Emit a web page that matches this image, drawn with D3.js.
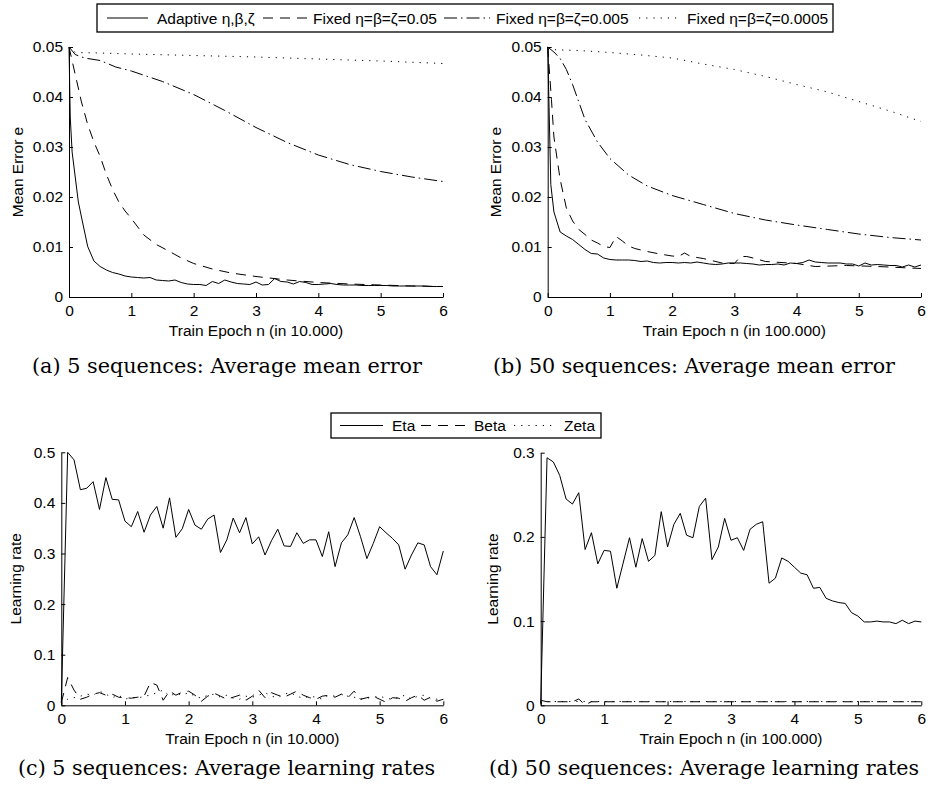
<!DOCTYPE html>
<html>
<head>
<meta charset="utf-8">
<script src="https://cdn.jsdelivr.net/npm/d3@7"></script>
<style>
  body { margin: 0; background: #fff; }
  text { font-family: "Liberation Sans", Arial, sans-serif; fill: #000; }
  .caption { font-family: "DejaVu Serif", "Liberation Serif", serif; }
</style>
</head>
<body>
<script>
// ---- data ----
const xTicks = [0, 1, 2, 3, 4, 5, 6];
const errTicks = [0, 0.01, 0.02, 0.03, 0.04, 0.05];
const rateTicksC = [0, 0.1, 0.2, 0.3, 0.4, 0.5];
const rateTicksD = [0, 0.1, 0.2, 0.3];

const legendErr = ["Adaptive η,β,ζ", "Fixed η=β=ζ=0.05", "Fixed η=β=ζ=0.005", "Fixed η=β=ζ=0.0005"];
const legendRate = ["Eta", "Beta", "Zeta"];

const epochs = [0, 0.1, 0.2, 0.3, 0.4, 0.5, 0.6, 0.7, 0.8, 0.9, 1.0, 1.1, 1.2, 1.3, 1.4, 1.5, 1.6, 1.7, 1.8, 1.9,
  2.0, 2.1, 2.2, 2.3, 2.4, 2.5, 2.6, 2.7, 2.8, 2.9, 3.0, 3.1, 3.2, 3.3, 3.4, 3.5, 3.6, 3.7, 3.8, 3.9,
  4.0, 4.1, 4.2, 4.3, 4.4, 4.5, 4.6, 4.7, 4.8, 4.9, 5.0, 5.1, 5.2, 5.3, 5.4, 5.5, 5.6, 5.7, 5.8, 5.9, 6.0];

// (a) 5 sequences, mean error
const aAdaptX = [0, 0.02, 0.05, 0.1, 0.15, 0.2, 0.3, 0.4, 0.5, 0.6, 0.7, 0.8, 0.9, 1.0, 1.1, 1.2, 1.3, 1.4, 1.5, 1.6, 1.7, 1.8, 1.9,
  2.0, 2.1, 2.2, 2.3, 2.4, 2.5, 2.6, 2.7, 2.8, 2.9, 3.0, 3.1, 3.2, 3.3, 3.4, 3.5, 3.6, 3.7, 3.8, 3.9,
  4.0, 4.1, 4.2, 4.3, 4.4, 4.5, 4.6, 4.7, 4.8, 4.9, 5.0, 5.1, 5.2, 5.3, 5.4, 5.5, 5.6, 5.7, 5.8, 5.9, 6.0];
const aAdapt = [0.05, 0.036, 0.029, 0.024, 0.019, 0.016, 0.0101, 0.0072, 0.0061, 0.0054, 0.0049, 0.0046, 0.0042, 0.0040, 0.0039, 0.0038, 0.0039, 0.0034, 0.0033, 0.0032, 0.0034, 0.0029, 0.0026,
  0.0025, 0.0025, 0.0023, 0.0031, 0.0027, 0.0034, 0.0030, 0.0027, 0.0026, 0.0025, 0.0030, 0.0024, 0.0025, 0.0037, 0.0031, 0.0030, 0.0026, 0.0031, 0.0029, 0.0025,
  0.0025, 0.0026, 0.0027, 0.0025, 0.0024, 0.0024, 0.0024, 0.0023, 0.0023, 0.0023, 0.0023, 0.0023, 0.0022, 0.0022, 0.0022, 0.0022, 0.0022, 0.0022, 0.0021, 0.0021, 0.0021];
const aFix05X = [0, 0.1, 0.2, 0.3, 0.4, 0.5, 0.6, 0.7, 0.8, 0.9, 1.0, 1.2, 1.4, 1.6, 1.8, 2.0, 2.3, 2.6, 3.0, 3.5, 4.0, 4.5, 5.0, 5.5, 6.0];
const aFix05 = [0.05, 0.0445, 0.039, 0.0345, 0.031, 0.0281, 0.0245, 0.0215, 0.019, 0.0172, 0.0157, 0.0124, 0.0105, 0.0092, 0.0078, 0.0067, 0.0056, 0.0048, 0.0041, 0.0034, 0.0029, 0.0026, 0.0024, 0.0022, 0.0021];
const aFix005X = [0, 0.1, 0.2, 0.3, 0.5, 0.75, 1.0, 1.5, 2.0, 2.5, 3.0, 3.5, 4.0, 4.5, 5.0, 5.5, 6.0];
const aFix005 = [0.05, 0.0485, 0.048, 0.0477, 0.0473, 0.046, 0.0452, 0.0431, 0.0405, 0.0373, 0.0339, 0.0309, 0.0284, 0.0265, 0.0251, 0.024, 0.0231];
const aFix0005X = [0, 0.1, 0.5, 1, 2, 3, 4, 5, 6];
const aFix0005 = [0.05, 0.0489, 0.0488, 0.0486, 0.0483, 0.048, 0.0476, 0.0472, 0.0467];

// (b) 50 sequences, mean error
const bAdaptX = [0, 0.05, 0.1, 0.2, 0.3, 0.4, 0.5, 0.6, 0.7, 0.8, 0.9, 1.0, 1.1, 1.2, 1.3, 1.4, 1.5, 1.6, 1.7, 1.8, 1.9,
  2.0, 2.1, 2.2, 2.3, 2.4, 2.5, 2.6, 2.7, 2.8, 2.9, 3.0, 3.1, 3.2, 3.3, 3.4, 3.5, 3.6, 3.7, 3.8, 3.9,
  4.0, 4.1, 4.2, 4.3, 4.4, 4.5, 4.6, 4.7, 4.8, 4.9, 5.0, 5.1, 5.2, 5.3, 5.4, 5.5, 5.6, 5.7, 5.8, 5.9, 6.0];
const bAdapt = [0.05, 0.0225, 0.017, 0.0130, 0.0122, 0.0115, 0.0105, 0.0095, 0.0087, 0.0086, 0.0078, 0.0075, 0.0074, 0.0074, 0.0074, 0.0073, 0.0071, 0.0072, 0.0069, 0.0068, 0.0069,
  0.0069, 0.0068, 0.0069, 0.0068, 0.0070, 0.0068, 0.0066, 0.0065, 0.0066, 0.0068, 0.0068, 0.0068, 0.0067, 0.0066, 0.0064, 0.0065, 0.0065, 0.0066, 0.0064, 0.0068,
  0.0067, 0.0069, 0.0074, 0.0070, 0.0069, 0.0068, 0.0068, 0.0068, 0.0066, 0.0066, 0.0062, 0.0068, 0.0064, 0.0065, 0.0064, 0.0063, 0.0063, 0.0060, 0.0064, 0.0060, 0.0064];
const bFix05X = [0, 0.06, 0.1, 0.2, 0.3, 0.4, 0.5, 0.6, 0.7, 0.8, 0.9, 1.0, 1.1, 1.2, 1.3, 1.4, 1.6, 1.8, 2.0, 2.1, 2.2, 2.3, 2.5, 2.8, 3.0, 3.1, 3.2, 3.3, 3.5, 4.0, 4.3, 4.8, 5.3, 6.0];
const bFix05 = [0.05, 0.0395, 0.032, 0.0235, 0.0178, 0.0152, 0.0135, 0.0125, 0.0114, 0.0108, 0.0101, 0.0099, 0.0121, 0.0112, 0.0102, 0.0097, 0.0091, 0.0086, 0.0082, 0.0081, 0.0088, 0.0081, 0.0077, 0.0068, 0.0067, 0.0081, 0.0081, 0.0078, 0.0071, 0.0067, 0.0061, 0.0063, 0.0061, 0.0057];
const bFix005X = [0, 0.1, 0.2, 0.3, 0.4, 0.5, 0.6, 0.8, 1.0, 1.3, 1.6, 2.0, 2.5, 3.0, 3.5, 4.0, 4.5, 5.0, 5.5, 6.0];
const bFix005 = [0.05, 0.049, 0.0477, 0.0455, 0.0425, 0.039, 0.0355, 0.031, 0.0277, 0.0244, 0.0222, 0.0203, 0.0185, 0.0167, 0.0154, 0.0144, 0.0135, 0.0126, 0.0119, 0.0114];
const bFix0005X = [0, 0.5, 1.0, 1.5, 2.0, 2.5, 3.0, 3.5, 4.0, 4.5, 5.0, 5.5, 6.0];
const bFix0005 = [0.0495, 0.0493, 0.0489, 0.0484, 0.0478, 0.0466, 0.0455, 0.0441, 0.0425, 0.041, 0.0391, 0.0372, 0.0351];

// (c) 5 sequences, learning rates
const cEta = [0.005, 0.5, 0.485, 0.426, 0.429, 0.442, 0.387, 0.45, 0.407, 0.406, 0.364, 0.353, 0.383, 0.342, 0.376, 0.393, 0.35, 0.41, 0.332, 0.349,
  0.387, 0.356, 0.348, 0.368, 0.376, 0.302, 0.327, 0.37, 0.341, 0.371, 0.319, 0.333, 0.297, 0.325, 0.348, 0.315, 0.314, 0.341, 0.32, 0.327,
  0.327, 0.294, 0.343, 0.274, 0.321, 0.337, 0.371, 0.333, 0.29, 0.32, 0.353, 0.341, 0.33, 0.317, 0.269, 0.297, 0.321, 0.317, 0.274, 0.258, 0.305];
const cBeta = [0.005, 0.055, 0.03, 0.012, 0.016, 0.022, 0.025, 0.02, 0.022, 0.016, 0.015, 0.014, 0.016, 0.018, 0.045, 0.04, 0.01, 0.028, 0.02, 0.026,
  0.028, 0.02, 0.008, 0.018, 0.024, 0.018, 0.012, 0.016, 0.02, 0.01, 0.018, 0.03, 0.015, 0.025, 0.02, 0.016, 0.022, 0.028, 0.02, 0.015,
  0.012, 0.018, 0.02, 0.016, 0.022, 0.015, 0.028, 0.012, 0.015, 0.018, 0.012, 0.006, 0.015, 0.014, 0.008, 0.015, 0.02, 0.01, 0.016, 0.008, 0.012];
const cZeta = [0.002, 0.012, 0.015, 0.018, 0.022, 0.02, 0.028, 0.022, 0.015, 0.02, 0.012, 0.016, 0.014, 0.018, 0.02, 0.025, 0.03, 0.018, 0.024, 0.02,
  0.025, 0.018, 0.014, 0.02, 0.022, 0.016, 0.02, 0.014, 0.012, 0.018, 0.016, 0.02, 0.025, 0.018, 0.015, 0.022, 0.025, 0.018, 0.014, 0.018,
  0.016, 0.012, 0.02, 0.018, 0.022, 0.018, 0.016, 0.012, 0.014, 0.016, 0.018, 0.014, 0.012, 0.016, 0.02, 0.012, 0.018, 0.02, 0.014, 0.012, 0.01];

// (d) 50 sequences, learning rates
const dEta = [0.002, 0.294, 0.289, 0.273, 0.245, 0.239, 0.2525, 0.185, 0.205, 0.168, 0.184, 0.183, 0.139, 0.169, 0.199, 0.164, 0.198, 0.171, 0.178, 0.23,
  0.188, 0.215, 0.228, 0.202, 0.199, 0.236, 0.246, 0.173, 0.188, 0.222, 0.196, 0.199, 0.184, 0.209, 0.215, 0.218, 0.145, 0.151, 0.175, 0.171,
  0.164, 0.157, 0.155, 0.139, 0.14, 0.127, 0.124, 0.122, 0.121, 0.11, 0.106, 0.099, 0.099, 0.1, 0.099, 0.099, 0.097, 0.101, 0.097, 0.1, 0.099];
const dBetaX = [0, 0.1, 0.5, 0.6, 0.7, 0.8, 6.0];
const dBeta = [0.006, 0.0042, 0.0042, 0.0075, 0.0005, 0.0042, 0.0042];
const dZetaX = [0, 0.1, 6.0];
const dZeta = [0.002, 0.0045, 0.0045];

// ---- drawing ----
const width = 928, height = 791;
const svg = d3.select("body").append("svg")
  .attr("width", width)
  .attr("height", height);

const DASH = { solid: null, dashed: "10,7", dashdot: "13,4,1.5,4", dotted: "1.2,6" };
const FS = "15.5px";

function panel(cfg) {
  const x = d3.scaleLinear().domain([0, 6]).range([cfg.left, cfg.right]);
  const y = d3.scaleLinear().domain(cfg.yDomain).range([cfg.bottom, cfg.top]);
  const g = svg.append("g");

  const line = d3.line().x(d => x(d[0])).y(d => y(d[1]));
  cfg.series.forEach(s => {
    g.append("path")
      .datum(s.x.map((v, i) => [v, s.y[i]]))
      .attr("fill", "none")
      .attr("stroke", "#000")
      .attr("stroke-width", 1)
      .attr("stroke-dasharray", DASH[s.style])
      .attr("d", line);
  });

  // x axis
  g.append("g")
    .attr("transform", `translate(0,${cfg.bottom})`)
    .call(d3.axisBottom(x).tickValues(xTicks).tickFormat(d3.format("d"))
      .tickSizeInner(-4).tickSizeOuter(0).tickPadding(8))
    .call(a => a.selectAll("text").style("font-size", FS));

  // y axis
  g.append("g")
    .attr("transform", `translate(${cfg.left},0)`)
    .call(d3.axisLeft(y).tickValues(cfg.yTicks).tickFormat(cfg.fmt)
      .tickSizeInner(-4).tickSizeOuter(0).tickPadding(6))
    .call(a => a.selectAll("text").style("font-size", FS));

  g.selectAll(".domain, .tick line").attr("stroke", "#000");

  g.append("text")
    .attr("x", (cfg.left + cfg.right) / 2)
    .attr("y", cfg.bottom + 39)
    .attr("text-anchor", "middle")
    .style("font-size", FS)
    .text(cfg.xLabel);

  g.append("text")
    .attr("transform", `translate(${cfg.left - cfg.yLabelOff},${(cfg.top + cfg.bottom) / 2}) rotate(-90)`)
    .attr("text-anchor", "middle")
    .style("font-size", FS)
    .text(cfg.yLabel);

  g.append("text")
    .attr("class", "caption")
    .attr("x", cfg.capX)
    .attr("y", cfg.capY)
    .attr("textLength", cfg.capW)
    .attr("lengthAdjust", "spacingAndGlyphs")
    .style("font-size", "20px")
    .text(cfg.caption);
}

const fmt2 = d => d === 0 ? "0" : d3.format(".2f")(d);
const fmt1 = d => d === 0 ? "0" : d3.format(".1f")(d);

panel({
  left: 69, right: 443, top: 47, bottom: 297, yDomain: [0, 0.05], yTicks: errTicks, fmt: fmt2,
  xLabel: "Train Epoch n (in 10.000)", yLabel: "Mean Error e", yLabelOff: 46,
  caption: "(a) 5 sequences: Average mean error", capX: 32, capY: 373, capW: 390,
  series: [
    { x: aAdaptX, y: aAdapt, style: "solid" },
    { x: aFix05X, y: aFix05, style: "dashed" },
    { x: aFix005X, y: aFix005, style: "dashdot" },
    { x: aFix0005X, y: aFix0005, style: "dotted" }
  ]
});

panel({
  left: 547.7, right: 921, top: 47, bottom: 297, yDomain: [0, 0.05], yTicks: errTicks, fmt: fmt2,
  xLabel: "Train Epoch n (in 100.000)", yLabel: "Mean Error e", yLabelOff: 47,
  caption: "(b) 50 sequences: Average mean error", capX: 493, capY: 373, capW: 402,
  series: [
    { x: bAdaptX, y: bAdapt, style: "solid" },
    { x: bFix05X, y: bFix05, style: "dashed" },
    { x: bFix005X, y: bFix005, style: "dashdot" },
    { x: bFix0005X, y: bFix0005, style: "dotted" }
  ]
});

panel({
  left: 61.3, right: 443.3, top: 452.3, bottom: 705.3, yDomain: [0, 0.5], yTicks: rateTicksC, fmt: fmt1,
  xLabel: "Train Epoch n (in 10.000)", yLabel: "Learning rate", yLabelOff: 40,
  caption: "(c) 5 sequences: Average learning rates", capX: 18, capY: 775, capW: 417,
  series: [
    { x: epochs, y: cEta, style: "solid" },
    { x: epochs, y: cBeta, style: "dashed" },
    { x: epochs, y: cZeta, style: "dotted" }
  ]
});

panel({
  left: 540.7, right: 921.3, top: 452.7, bottom: 705.3, yDomain: [0, 0.3], yTicks: rateTicksD, fmt: fmt1,
  xLabel: "Train Epoch n (in 100.000)", yLabel: "Learning rate", yLabelOff: 43,
  caption: "(d) 50 sequences: Average learning rates", capX: 489, capY: 775, capW: 430,
  series: [
    { x: epochs, y: dEta, style: "solid" },
    { x: dBetaX, y: dBeta, style: "dashed" },
    { x: dZetaX, y: dZeta, style: "dotted" }
  ]
});

// ---- legends ----
function legend(box, items) {
  const g = svg.append("g");
  g.append("rect")
    .attr("x", box.x).attr("y", box.y)
    .attr("width", box.w).attr("height", box.h)
    .attr("fill", "#fff").attr("stroke", "#000").attr("stroke-width", 1.3);
  const cy = box.y + box.h / 2;
  items.forEach(it => {
    g.append("line")
      .attr("x1", it.x1).attr("x2", it.x2)
      .attr("y1", cy).attr("y2", cy)
      .attr("stroke", "#000").attr("stroke-width", 1)
      .attr("stroke-dasharray", DASH[it.style]);
    g.append("text")
      .attr("x", it.tx).attr("y", cy + 5.5)
      .style("font-size", FS)
      .text(it.label);
  });
}

legend({ x: 97, y: 4, w: 736, h: 28 }, [
  { x1: 107, x2: 148, tx: 157, label: legendErr[0], style: "solid" },
  { x1: 263, x2: 308, tx: 313, label: legendErr[1], style: "dashed" },
  { x1: 444, x2: 490, tx: 496, label: legendErr[2], style: "dashdot" },
  { x1: 639, x2: 682, tx: 687, label: legendErr[3], style: "dotted" }
]);

legend({ x: 331, y: 413, w: 270, h: 25 }, [
  { x1: 340, x2: 383, tx: 392, label: legendRate[0], style: "solid" },
  { x1: 421, x2: 469, tx: 474, label: legendRate[1], style: "dashed" },
  { x1: 514, x2: 557, tx: 564, label: legendRate[2], style: "dotted" }
]);
</script>
</body>
</html>
